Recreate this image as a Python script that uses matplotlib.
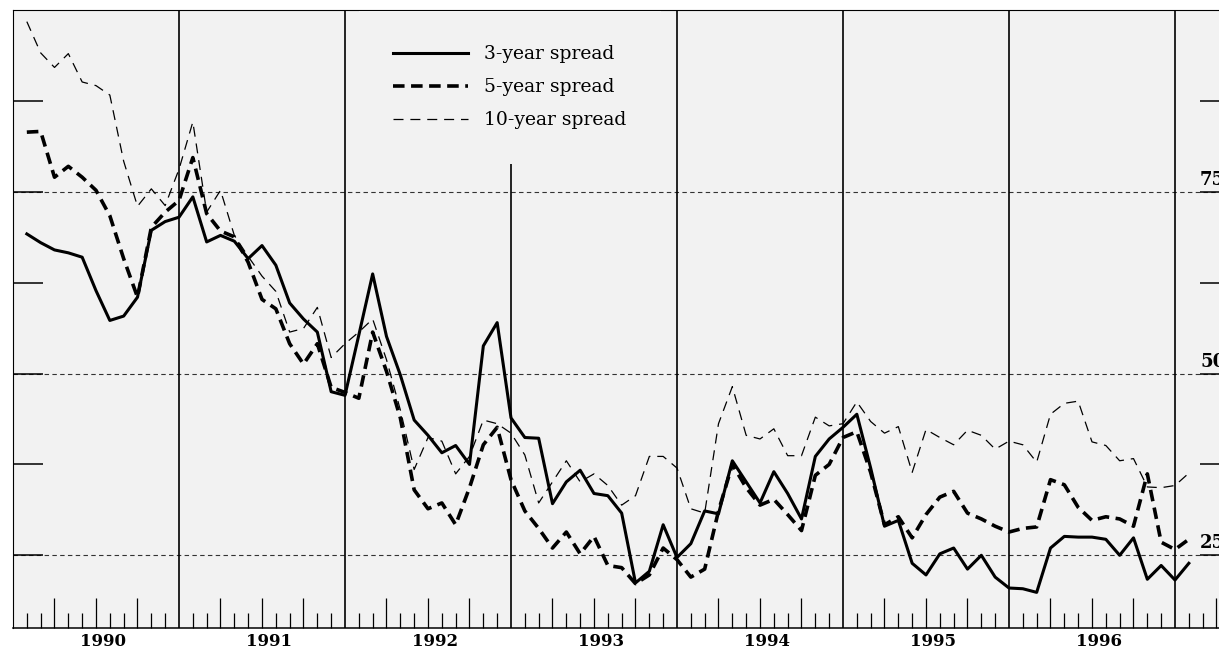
import numpy as np
import matplotlib
matplotlib.use("Agg")
import matplotlib.pyplot as plt
import matplotlib.transforms as mtransforms
from matplotlib.ticker import FixedLocator

plt.rcParams['font.family'] = ['DejaVu Serif']

# monthly spreads, Jan 1990 .. Jan 1997 (plotted at month end)
spread_3yr = [69.2, 68.0, 67.0, 66.6, 66.0, 61.4, 57.3, 57.9, 60.5, 69.7, 70.9, 71.5,
              74.3, 68.1, 69.0, 68.2, 65.8, 67.6, 64.9, 59.7, 57.5, 55.7, 47.5, 47.0,
              55.3, 63.7, 55.1, 49.8, 43.6, 41.5, 39.1, 40.1, 37.5, 53.8, 57.0, 43.9,
              41.2, 41.1, 32.1, 35.1, 36.7, 33.5, 33.2, 30.8, 21.2, 22.8, 29.2, 24.7,
              26.6, 31.1, 30.7, 38.0, 35.1, 32.2, 36.5, 33.5, 30.0, 38.6, 41.0, 42.6,
              44.4, 37.0, 29.0, 29.8, 23.9, 22.3, 25.2, 26.0, 23.1, 25.0, 22.0, 20.5,
              20.4, 19.9, 26.0, 27.6, 27.5, 27.5, 27.2, 25.0, 27.4, 21.7, 23.6, 21.6,
              23.9]
spread_5yr = [83.2, 83.3, 77.0, 78.5, 77.0, 75.2, 71.7, 65.8, 60.5, 70.1, 72.2, 73.8,
              79.7, 72.0, 69.6, 68.8, 65.3, 60.2, 58.9, 54.1, 51.3, 54.1, 48.1, 47.4,
              46.6, 55.7, 50.3, 43.9, 34.0, 31.4, 32.2, 29.2, 34.3, 40.2, 42.6, 35.4,
              31.1, 28.7, 26.0, 28.2, 25.2, 27.6, 23.6, 23.3, 21.1, 22.3, 26.0, 24.4,
              22.0, 23.1, 31.1, 37.5, 34.3, 31.9, 32.7, 30.6, 28.4, 36.0, 37.5, 41.2,
              42.0, 36.4, 29.2, 30.3, 27.4, 30.6, 33.0, 33.8, 30.8, 30.0, 29.0, 28.2,
              28.7, 28.9, 35.4, 34.7, 31.6, 29.8, 30.3, 30.0, 29.0, 36.2, 26.8, 25.8,
              27.2]
spread_10yr = [98.4, 94.1, 92.1, 94.0, 90.1, 89.6, 88.3, 79.2, 73.0, 75.4, 73.1, 78.1,
               84.6, 72.2, 75.2, 69.0, 66.1, 63.4, 61.3, 55.7, 56.2, 59.1, 52.2, 54.1,
               55.7, 57.5, 51.9, 45.0, 36.8, 41.2, 40.7, 36.2, 38.6, 43.6, 43.1, 41.8,
               38.8, 32.2, 35.1, 38.0, 35.1, 36.2, 34.6, 31.9, 33.2, 38.6, 38.6, 37.0,
               31.4, 30.8, 43.1, 48.2, 41.5, 41.0, 42.4, 38.7, 38.7, 44.0, 42.8, 43.1,
               46.1, 43.4, 41.8, 42.7, 36.4, 42.3, 41.2, 40.2, 42.2, 41.5, 39.6, 40.7,
               40.2, 37.8, 44.4, 45.9, 46.2, 40.6, 40.1, 38.0, 38.3, 34.4, 34.3, 34.6,
               36.3]

year_labels = [1990, 1991, 1992, 1993, 1994, 1995, 1996]
year_lines = [1991, 1992, 1993, 1994, 1995, 1996, 1997]
grid_levels = [25, 50, 75]
tick_levels = [25, 37.5, 50, 62.5, 75, 87.5]

x = 1990 + np.arange(1, len(spread_3yr) + 1) / 12.0

bg = '#f2f2f2'
fig = plt.figure(figsize=(12.19, 6.51), dpi=100)
ax = fig.add_axes([13 / 1219, 23 / 651, 1217 / 1219, 618 / 651])
ax.set_facecolor(bg)
ax.set_xlim(1990, 1990 + 1217 / 166)
ax.set_ylim(15, 100)

for v in grid_levels:
    ax.axhline(v, color='#333333', lw=0.8, ls=(0, (4, 3)), zorder=1)
for yr in year_lines:
    ax.axvline(yr, color='black', lw=1.2, zorder=2)

ax.plot(x, spread_3yr, color='black', lw=2.2, label='3-year spread', zorder=4)
ax.plot(x, spread_5yr, color='black', lw=2.6, dashes=(3.2, 1.8), label='5-year spread', zorder=4)
ax.plot(x, spread_10yr, color='black', lw=0.9, dashes=(8, 5.5), label='10-year spread', zorder=4)

# month / quarter ticks along the bottom
quarters = [y + q / 4 for y in range(1990, 1998) for q in (1, 2, 3)]
months = [y + m / 12 for y in range(1990, 1998) for m in range(1, 12) if m % 3 != 0]
ax.xaxis.set_major_locator(FixedLocator(quarters))
ax.xaxis.set_minor_locator(FixedLocator(months))
ax.tick_params(axis='x', which='major', direction='in', length=21.6, width=0.9,
               labelbottom=False, color='black')
ax.tick_params(axis='x', which='minor', direction='in', length=10.8, width=0.9, color='black')

ax.yaxis.set_major_locator(FixedLocator(tick_levels))
ax.tick_params(axis='y', which='major', direction='in', length=21.6, width=1.1,
               left=True, right=True, labelleft=False, labelright=False, color='black')

for s in ['left', 'top']:
    ax.spines[s].set_linewidth(0.8)
ax.spines['bottom'].set_linewidth(1.1)
ax.spines['right'].set_visible(False)

# year labels below the axis
tr_x = mtransforms.blended_transform_factory(ax.transData, ax.transAxes)
tr_x = mtransforms.offset_copy(tr_x, fig=fig, x=0, y=-5, units='dots')
for yr in year_labels:
    ax.text(yr + 0.545, 0, str(yr), transform=tr_x, ha='center', va='top',
            fontsize=12, fontweight='bold')

# right hand scale labels (cut by the edge, as in the source)
tr_y = mtransforms.blended_transform_factory(ax.transAxes, ax.transData)
tr_y = mtransforms.offset_copy(tr_y, fig=fig, x=0, y=7, units='dots')
for v in grid_levels:
    ax.text(1 - 30 / 1217, v, str(v), transform=tr_y, ha='left', va='baseline',
            fontsize=13, fontweight='bold', clip_on=False)

leg = ax.legend(loc='upper left', bbox_to_anchor=(0.2840, 0.999), borderaxespad=0,
                frameon=True, fancybox=False, facecolor=bg, edgecolor='none', framealpha=1,
                fontsize=13.5, handlelength=4.0, handletextpad=0.85, labelspacing=0.8,
                borderpad=1.85)
leg.set_zorder(5)

fig.savefig('out.png', dpi=100, facecolor='white')
